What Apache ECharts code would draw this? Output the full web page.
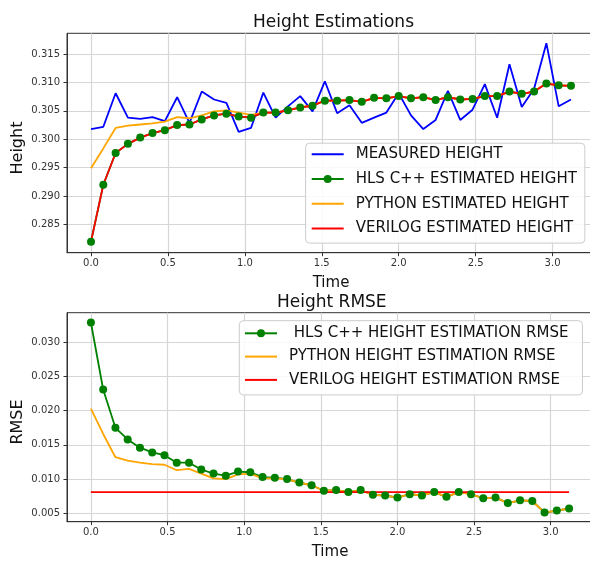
<!DOCTYPE html>
<html>
<head>
<meta charset="utf-8">
<script src="https://cdn.jsdelivr.net/npm/echarts@6/dist/echarts.min.js"></script>
<style>
html,body{margin:0;padding:0;background:#fff;}
#chart{width:590px;height:561px;}
</style>
</head>
<body>
<div id="chart"></div>
<script>
const time = [0.00,0.08,0.16,0.24,0.32,0.40,0.48,0.56,0.64,0.72,0.80,0.88,0.96,1.04,1.12,1.20,1.28,1.36,1.44,1.52,
              1.60,1.68,1.76,1.84,1.92,2.00,2.08,2.16,2.24,2.32,2.40,2.48,2.56,2.64,2.72,2.80,2.88,2.96,3.04,3.12];

const measuredHeight = [0.3018,0.3022,0.3081,0.3038,0.3036,0.3039,0.3032,0.3074,0.3029,0.3084,
                        0.3070,0.3064,0.3013,0.3020,0.3082,0.3038,0.3058,0.3076,0.3049,0.3102,
                        0.3046,0.3060,0.3029,0.3038,0.3047,0.3081,0.3042,0.3018,0.3034,0.3085,
                        0.3034,0.3052,0.3097,0.3038,0.3132,0.3057,0.3089,0.3169,0.3058,0.3070];

const hlsHeight = [0.2820,0.2920,0.2976,0.2992,0.3003,0.3011,0.3016,0.3025,0.3026,0.3035,
                   0.3042,0.3045,0.3040,0.3038,0.3047,0.3047,0.3051,0.3056,0.3059,0.3068,
                   0.3068,0.3069,0.3066,0.3073,0.3072,0.3076,0.3072,0.3074,0.3069,0.3074,
                   0.3070,0.3071,0.3076,0.3076,0.3084,0.3080,0.3084,0.3098,0.3095,0.3094];

const pythonHeight = [0.2949,0.2984,0.3020,0.3024,0.3026,0.3028,0.3031,0.3039,0.3037,0.3042,
                      0.3049,0.3051,0.3047,0.3043,0.3047,0.3047,0.3051,0.3056,0.3059,0.3068,
                      0.3068,0.3069,0.3066,0.3073,0.3072,0.3076,0.3072,0.3074,0.3069,0.3074,
                      0.3070,0.3071,0.3076,0.3076,0.3084,0.3080,0.3084,0.3098,0.3095,0.3094];

const verilogHeight = [0.2820,0.2920,0.2976,0.2992,0.3003,0.3011,0.3016,0.3025,0.3026,0.3035,
                       0.3042,0.3045,0.3040,0.3039,0.3047,0.3047,0.3051,0.3056,0.3059,0.3068,
                       0.3068,0.3069,0.3066,0.3073,0.3072,0.3076,0.3072,0.3074,0.3069,0.3074,
                       0.3070,0.3071,0.3076,0.3076,0.3084,0.3080,0.3084,0.3098,0.3095,0.3094];

const hlsRmse = [0.0329,0.0231,0.0175,0.0158,0.0146,0.0139,0.0135,0.0124,0.0124,0.0114,
                 0.0108,0.0105,0.0111,0.0110,0.0103,0.0102,0.0100,0.0095,0.0091,0.0083,
                 0.0084,0.0081,0.0084,0.0077,0.0076,0.0073,0.0078,0.0076,0.0081,0.0074,
                 0.0081,0.0078,0.0072,0.0073,0.0065,0.0069,0.0068,0.0051,0.0054,0.0057];

const pythonRmse = [0.0203,0.0166,0.0132,0.0127,0.0124,0.0122,0.0121,0.0113,0.0115,0.0108,
                    0.0101,0.0100,0.0107,0.0108,0.0101,0.0101,0.0100,0.0095,0.0091,0.0083,
                    0.0084,0.0081,0.0084,0.0077,0.0076,0.0073,0.0078,0.0076,0.0081,0.0074,
                    0.0081,0.0078,0.0072,0.0073,0.0065,0.0069,0.0068,0.0051,0.0054,0.0057];

const verilogRmse = [0.0081,0.0081,0.0081,0.0081,0.0081,0.0081,0.0081,0.0081,0.0081,0.0081,
                     0.0081,0.0081,0.0081,0.0081,0.0081,0.0081,0.0081,0.0081,0.0081,0.0081,
                     0.0081,0.0081,0.0081,0.0081,0.0081,0.0081,0.0081,0.0081,0.0081,0.0081,
                     0.0081,0.0081,0.0081,0.0081,0.0081,0.0081,0.0081,0.0081,0.0081,0.0081];

const xTickLabels = ['0.0','0.5','1.0','1.5','2.0','2.5','3.0'];
const topTickLabels = ['0.285','0.290','0.295','0.300','0.305','0.310','0.315'];
const bottomTickLabels = ['0.005','0.010','0.015','0.020','0.025','0.030'];

const FONT = 'DejaVu Sans';
const pair = arr => time.map((t, i) => [t, arr[i]]);

function fmtFrom(list, digits) {
  return function (v) {
    const s = Number(v).toFixed(digits);
    return list.indexOf(s) >= 0 && Math.abs(Number(s) - v) < 1e-6 ? s : '';
  };
}

function xAxisOpt(gi) {
  return {
    gridIndex: gi, type: 'value', min: -0.156, max: 3.276, splitNumber: 6,
    name: 'Time', nameLocation: 'middle', nameGap: 23,
    nameTextStyle: {fontFamily: FONT, fontSize: 15, color: '#111'},
    axisLine: {show: true, onZero: false, lineStyle: {color: '#333', width: 1}},
    axisTick: {show: true, length: 3.5, lineStyle: {color: '#333'},
               customValues: xTickLabels.map(Number)},
    axisLabel: {fontFamily: FONT, fontSize: 10, color: '#333', margin: 6,
                formatter: fmtFrom(xTickLabels, 1)},
    splitLine: {show: true, lineStyle: {color: '#d6d6d6', width: 1.2}}
  };
}

function yAxisOpt(gi, min, max, split, labels) {
  return {
    gridIndex: gi, type: 'value', min: min, max: max, splitNumber: split,
    axisLine: {show: true, onZero: false, lineStyle: {color: '#333', width: 1}},
    axisTick: {show: true, length: 3.5, lineStyle: {color: '#333'},
               customValues: labels.map(Number)},
    axisLabel: {fontFamily: FONT, fontSize: 10, color: '#333', margin: 7,
                formatter: fmtFrom(labels, 3)},
    splitLine: {show: true, lineStyle: {color: '#d6d6d6', width: 1.2}}
  };
}

const lineSeries = (name, data, color, xi, extra) => Object.assign({
  name: name, type: 'line', xAxisIndex: xi, yAxisIndex: xi, data: pair(data),
  symbol: 'none', showSymbol: false, lineStyle: {color: color, width: 1.8},
  itemStyle: {color: color}, animation: false, silent: true
}, extra || {});

const legendBase = {
  orient: 'vertical', itemWidth: 32, itemHeight: 10,
  textStyle: {fontFamily: FONT, fontSize: 15, color: '#111', lineHeight: 16, padding: [0, 0, 0, 7]},
  borderColor: '#cccccc', borderWidth: 1, borderRadius: 4,
  backgroundColor: 'rgba(255,255,255,0.85)', selectedMode: false, z: 10
};
const plainItem = name => ({name: name, itemStyle: {opacity: 0}});

const chart = echarts.init(document.getElementById('chart'), null, {renderer: 'canvas'});
chart.setOption({
  animation: false,
  backgroundColor: '#fff',
  title: [
    {text: 'Height Estimations', left: 248, top: 9,
     textStyle: {fontFamily: FONT, fontSize: 17, fontWeight: 'normal', color: '#111'}},
    {text: 'Height RMSE', left: 272, top: 289,
     textStyle: {fontFamily: FONT, fontSize: 17, fontWeight: 'normal', color: '#111'}}
  ],
  graphic: [
    {type: 'text', x: 17.5, y: 148, rotation: Math.PI / 2, silent: true,
     style: {text: 'Height', font: '16px "DejaVu Sans"', fill: '#111', align: 'center', verticalAlign: 'middle'}},
    {type: 'text', x: 17.5, y: 422, rotation: Math.PI / 2, silent: true,
     style: {text: 'RMSE', font: '16px "DejaVu Sans"', fill: '#111', align: 'center', verticalAlign: 'middle'}}
  ],
  grid: [
    {left: 67, top: 33.3, width: 528, height: 219.4, show: true, borderColor: '#333', borderWidth: 1,
     backgroundColor: 'transparent', outerBoundsMode: 'none', containLabel: false},
    {left: 67, top: 312.7, width: 526, height: 209, show: true, borderColor: '#333', borderWidth: 1,
     backgroundColor: 'transparent', outerBoundsMode: 'none', containLabel: false}
  ],
  xAxis: [xAxisOpt(0), xAxisOpt(1)],
  yAxis: [
    yAxisOpt(0, 0.28006, 0.31864, 7, topTickLabels),
    yAxisOpt(1, 0.00377, 0.03433, 6, bottomTickLabels)
  ],
  legend: [
    Object.assign({}, legendBase, {
      left: 305.6, top: 143.2, itemGap: 8.8, padding: [3, 8, 6.5, 5.1],
      data: [plainItem('MEASURED HEIGHT'), 'HLS C++ ESTIMATED HEIGHT',
             plainItem('PYTHON ESTIMATED HEIGHT'), plainItem('VERILOG ESTIMATED HEIGHT')]
    }),
    Object.assign({}, legendBase, {
      left: 239.3, top: 320.7, itemGap: 7.3, padding: [4.6, 14, 7, 4.7],
      data: [' HLS C++ HEIGHT ESTIMATION RMSE', plainItem('PYTHON HEIGHT ESTIMATION RMSE'),
             plainItem('VERILOG HEIGHT ESTIMATION RMSE')]
    })
  ],
  series: [
    lineSeries('MEASURED HEIGHT', measuredHeight, '#0000ff', 0),
    lineSeries('HLS C++ ESTIMATED HEIGHT', hlsHeight, '#008000', 0, {symbol: 'circle', showSymbol: true, symbolSize: 8}),
    lineSeries('PYTHON ESTIMATED HEIGHT', pythonHeight, '#ffa500', 0),
    lineSeries('VERILOG ESTIMATED HEIGHT', verilogHeight, '#ff0000', 0),
    lineSeries(' HLS C++ HEIGHT ESTIMATION RMSE', hlsRmse, '#008000', 1, {symbol: 'circle', showSymbol: true, symbolSize: 8}),
    lineSeries('PYTHON HEIGHT ESTIMATION RMSE', pythonRmse, '#ffa500', 1),
    lineSeries('VERILOG HEIGHT ESTIMATION RMSE', verilogRmse, '#ff0000', 1)
  ]
});
</script>
</body>
</html>
